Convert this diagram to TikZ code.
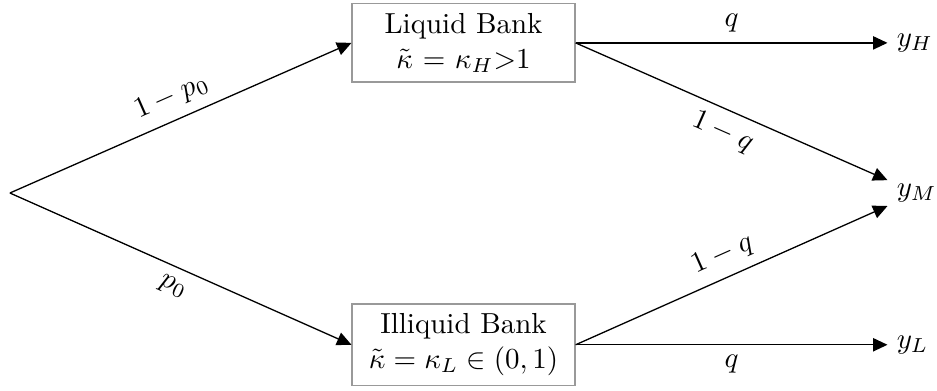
\documentclass[tikz,border=0pt]{standalone}
\usepackage{amsmath}
\usepackage{amssymb}
\usepackage{tikz}
\usetikzlibrary{
  arrows.meta,  % Triangle 箭头
  positioning   % 节点相对定位
}

\tikzset{
  bankbox/.style={draw=black!40, line width=0.5pt, align=center, minimum width=2.7cm},
  outcome/.style={anchor=west, inner sep=3pt},
  branch/.style={-{Triangle[length=5pt, width=4.6pt]}, line width=0.45pt}
}

\begin{document}
\begin{tikzpicture}[x=1cm, y=1cm]
  % 固定画面边界
  \useasboundingbox (-0.12, -2.39) rectangle (11.24, 2.34);

  % ===== 根节点 =====
  \coordinate (root) at (0, 0);

  % ===== 两类银行 =====
  \node[bankbox] (liquid) at (5.50, 1.82) {Liquid Bank\\ $\tilde{\kappa}$ = $\kappa_H$$>$1};
  \node[bankbox] (illiquid) at (5.50, -1.84) {Illiquid Bank\\ $\tilde{\kappa}=\kappa_L\in(0,1)$};

  % ===== 结果 =====
  \node[outcome] (yH) at (10.64, 1.82) {$y_H$};
  \node[outcome] (yM) at (10.64, 0) {$y_M$};
  \node[outcome] (yL) at (10.64, -1.84) {$y_L$};

  % --- 第一层分支 ---
  \draw[branch] (root) -- node[above, sloped] {$1-p_0$} (liquid.west);
  \draw[branch] (root) -- node[below, sloped] {$p_0$} (illiquid.west);

  % --- 第二层分支（流动性银行）---
  \draw[branch] (liquid.east) -- node[above] {$q$} (yH.west);
  \draw[branch] (liquid.east) -- node[below, sloped] {$1-q$} (yM);

  % --- 第二层分支（非流动性银行）---
  \draw[branch] (illiquid.east) -- node[above, sloped] {$1-q$} (yM);
  \draw[branch] (illiquid.east) -- node[below] {$q$} (yL.west);
\end{tikzpicture}
\end{document}
